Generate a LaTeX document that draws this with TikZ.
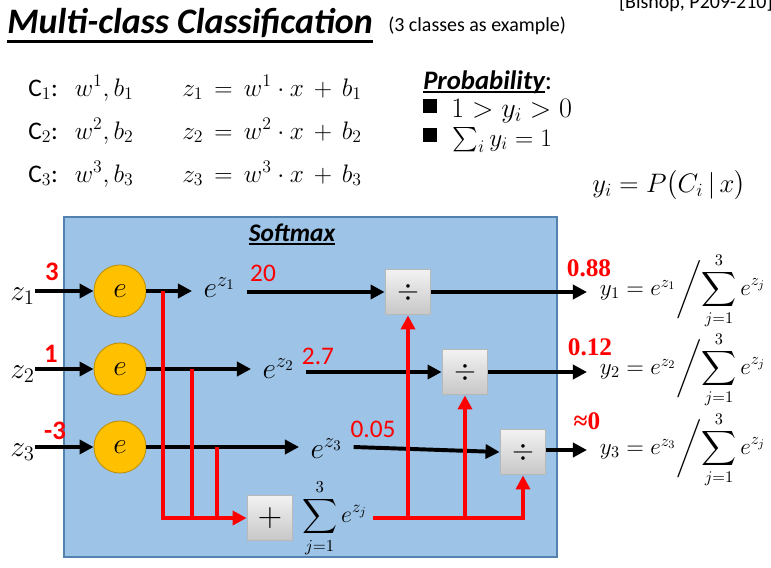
\documentclass[tikz,border=0pt]{standalone}
\usepackage{fix-cm}
\usepackage{exscale}
\usepackage{fontspec}
\setmainfont{Carlito}
\newfontfamily\timesfont{Liberation Serif}
\usetikzlibrary{arrows.meta,positioning,calc}
\definecolor{smblue}{RGB}{157,195,230}
\definecolor{smedge}{RGB}{84,130,175}
\definecolor{egold}{RGB}{255,192,0}
\definecolor{egoldedge}{RGB}{191,144,0}
\definecolor{valred}{RGB}{255,0,0}
% text with a bar under it: offset below baseline, thickness, text
\newcommand{\ulbar}[3]{\setbox0=\hbox{#3}\rlap{\rule[-#1]{\wd0}{#2}}\box0}
\newcommand{\sqbullet}{\rule[3pt]{10pt}{10pt}\hspace{10pt}}

\begin{document}
\begin{tikzpicture}[
  x=0.025cm, y=-0.025cm,
  >={Triangle[length=10pt,width=10pt]},
  txt/.style={inner sep=0pt,anchor=base west},
  eqn/.style={txt,font=\fontsize{18}{22}\selectfont},
  zlbl/.style={inner sep=0pt,font=\fontsize{21}{25}\selectfont},
  ezlbl/.style={inner xsep=8pt,inner ysep=0pt,anchor=base west,
    font=\fontsize{21}{25}\selectfont},
  ecirc/.style={circle,fill=egold,draw=egoldedge,line width=0.6pt,
    minimum size=37pt,inner sep=0pt,font=\fontsize{21}{25}\selectfont},
  opbox/.style={rectangle,top color=black!5,bottom color=black!22,
    draw=black!28,line width=0.8pt,minimum size=32.5pt,inner sep=0pt,
    font=\fontsize{20}{24}\selectfont},
  inval/.style={text=valred,font=\fontsize{19}{22}\selectfont\bfseries,inner sep=0pt},
  midval/.style={text=valred,font=\fontsize{18}{21}\selectfont,inner sep=0pt},
  outval/.style={text=valred,font=\fontsize{18}{21}\selectfont\timesfont\bfseries,inner sep=0pt},
  outf/.style={inner xsep=9pt,inner ysep=0pt,anchor=west,
    font=\fontsize{16.5}{20}\selectfont},
  flow/.style={->,line width=2.8pt},
  sumline/.style={draw=valred,line width=2.8pt},
  sumflow/.style={sumline,->}
]
\useasboundingbox (0,0) rectangle (771,567);

% heading
\node[txt,font=\fontsize{25.5}{30}\selectfont\bfseries\itshape] (title) at (7,33)
  {\ulbar{7pt}{1.8pt}{Multi-class Classification}};
\node[txt,font=\fontsize{14.2}{17}\selectfont] (subtitle) at (388,31) {(3 classes as example)};
\node[inner sep=0pt,anchor=base east,font=\fontsize{14.2}{17}\selectfont] (cite) at (773,8)
  {[Bishop, P209-210]};

% classes
\node[eqn] (c1) at (28,96) {C$_1$:\hspace{12pt}$w^1, b_1$};
\node[eqn] (c2) at (28,139) {C$_2$:\hspace{12pt}$w^2, b_2$};
\node[eqn] (c3) at (28,182) {C$_3$:\hspace{12pt}$w^3, b_3$};
\node[eqn] (zz1) at (182,96) {$z_1 \,=\, w^1 \cdot x \,+\, b_1$};
\node[eqn] (zz2) at (182,139) {$z_2 \,=\, w^2 \cdot x \,+\, b_2$};
\node[eqn] (zz3) at (182,182) {$z_3 \,=\, w^3 \cdot x \,+\, b_3$};

% probability
\node[txt,font=\fontsize{19}{23}\selectfont] (prob) at (423,89)
  {{\bfseries\itshape\ulbar{2.5pt}{1.4pt}{Probability}}:};
\node[txt,font=\fontsize{20}{24}\selectfont] (p1) at (423,117) {\sqbullet$1 > y_i > 0$};
\node[txt,font=\fontsize{18}{22}\selectfont] (p2) at (423,146) {\sqbullet\hspace{1pt}$\sum_i y_i = 1$};
\node[txt,font=\fontsize{19}{23}\selectfont] (pc) at (592,192) {$y_i = P\bigl(C_i \,|\, x\bigr)$};

% softmax block
\draw[fill=smblue,draw=smedge,line width=0.8pt] (64,217) rectangle (557,557);
\node[inner sep=0pt,anchor=base,font=\fontsize{18}{21}\selectfont\bfseries\itshape] (smlabel)
  at (292,241) {\ulbar{3pt}{1.4pt}{Softmax}};

\node[ecirc] (e1) at (120,291) {$e$};
\node[ecirc] (e2) at (120,369) {$e$};
\node[ecirc] (e3) at (120,447) {$e$};

\node[zlbl,anchor=east] (z1) at (35,296) {$z_1$};
\node[zlbl,anchor=east] (z2) at (35,374) {$z_2$};
\node[zlbl,anchor=east] (z3) at (35,452) {$z_3$};

\node[inval] (v1) at (52,272) {3};
\node[inval] (v2) at (51,354) {1};
\node[inval] (v3) at (55,431) {-3};

\node[ezlbl] (ez1) at (192,297) {$e^{z_1}$};
\node[ezlbl] (ez2) at (251,378) {$e^{z_2}$};
\node[ezlbl] (ez3) at (299,458) {$e^{z_3}$};

\node[midval] (w1) at (263,273) {20};
\node[midval] (w2) at (318,356) {2.7};
\node[midval] (w3) at (373,429) {0.05};

\node[opbox] (d1) at (408,292) {$\div$};
\node[opbox] (d2) at (465,372) {$\div$};
\node[opbox] (d3) at (523,452) {$\div$};

\node[opbox,font=\fontsize{24}{28}\selectfont] (plus) at (270,518) {$+$};
\node[inner xsep=4pt,inner ysep=0pt,right=2pt of plus,font=\fontsize{17}{21}\selectfont] (sum)
  {$\displaystyle\sum_{j=1}^{3} e^{z_j}$};

% outputs
\node[outf] (y1) at (587,291) {$y_1 = e^{z_1}\bigg/\!\displaystyle\sum_{j=1}^{3} e^{z_j}$};
\node[outf] (y2) at (587,370) {$y_2 = e^{z_2}\bigg/\!\displaystyle\sum_{j=1}^{3} e^{z_j}$};
\node[outf] (y3) at (587,450) {$y_3 = e^{z_3}\bigg/\!\displaystyle\sum_{j=1}^{3} e^{z_j}$};

\node[outval] (o1) at (589,268) {0.88};
\node[outval] (o2) at (590,347) {0.12};
\node[outval] (o3) at (587,421) {≈0};

% black flow
\draw[flow] (z1.east |- e1) -- (e1);
\draw[flow] (z2.east |- e2) -- (e2);
\draw[flow] (z3.east |- e3) -- (e3);
\draw[flow] (e1) -- (e1 -| ez1.west);
\draw[flow] (e2) -- (e2 -| ez2.west);
\draw[flow] (e3) -- (e3 -| ez3.west);
\draw[flow] (ez1.east |- d1) -- (d1);
\draw[flow] (ez2.east |- d2) -- (d2);
\draw[flow] (ez3.east |- e3) -- (d3.west);
\draw[flow] (d1) -- (d1 -| y1.west);
\draw[flow] (d2) -- (d2 -| y2.west);
\draw[flow] (d3.east |- y3) -- (y3.west);

% red sum path
\coordinate (t1) at (163,291);
\coordinate (t2) at (192,369);
\coordinate (t3) at (217,447);
\draw[sumflow] (t1) |- (plus.west);
\draw[sumline] (t2) -- (t2 |- plus.west);
\draw[sumline] (t3) -- (t3 |- plus.west);
\draw[sumflow] (sum.east) -| (d3.south);
\draw[sumflow] (d1.south |- sum.east) -- (d1.south);
\draw[sumflow] (d2.south |- sum.east) -- (d2.south);
\end{tikzpicture}
\end{document}
